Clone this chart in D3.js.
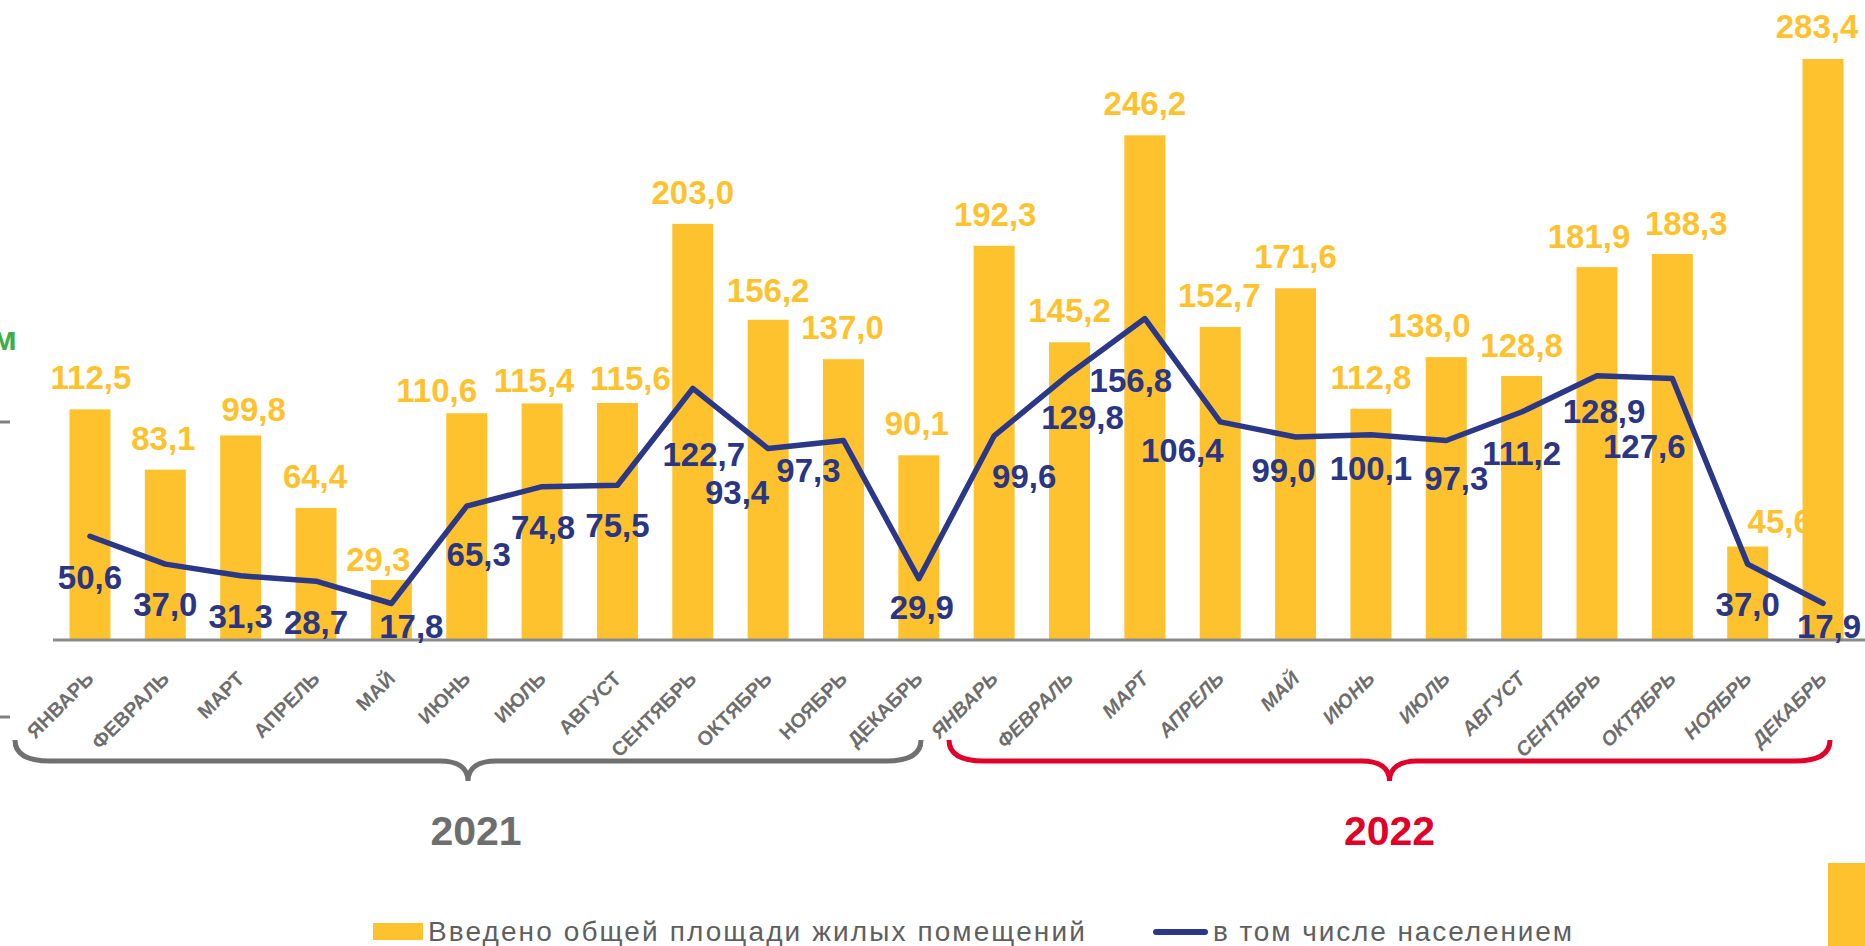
<!DOCTYPE html>
<html>
<head>
<meta charset="utf-8">
<script src="https://cdn.jsdelivr.net/npm/d3@7"></script>
<style>
    html, body { margin: 0; padding: 0; background: #fff; overflow: hidden; }
    svg { display: block; font-family: "Liberation Sans", Arial, sans-serif; }
</style>
</head>
<body>
<svg id="chart" width="1865" height="946"></svg>
<script>
// Données
const months = ["ЯНВАРЬ", "ФЕВРАЛЬ", "МАРТ", "АПРЕЛЬ", "МАЙ", "ИЮНЬ", "ИЮЛЬ", "АВГУСТ", "СЕНТЯБРЬ", "ОКТЯБРЬ", "НОЯБРЬ", "ДЕКАБРЬ"];
const years = ["2021", "2022"];
const total2021 = [112.5, 83.1, 99.8, 64.4, 29.3, 110.6, 115.4, 115.6, 203.0, 156.2, 137.0, 90.1];
const total2022 = [192.3, 145.2, 246.2, 152.7, 171.6, 112.8, 138.0, 128.8, 181.9, 188.3, 45.6, 283.4];
const pop2021 = [50.6, 37.0, 31.3, 28.7, 17.8, 65.3, 74.8, 75.5, 122.7, 93.4, 97.3, 29.9];
const pop2022 = [99.6, 129.8, 156.8, 106.4, 99.0, 100.1, 97.3, 111.2, 128.9, 127.6, 37.0, 17.9];
const seriesNames = ["Введено общей площади жилых помещений", "в том числе населением"];

// Décalages des étiquettes (placement manuel comme dans l'original)
const barLabelDx = [1, -2, 13, -1, -13, -30, -8, 13, 0, 0, -1, -2, 1, 0, 0, -1, 0, 0, -17, 0, -8, 14, 32, -6];
const barLabelGap = [20, 20, 14, 20, 9, 11, 11, 13, 20, 18, 20, 20, 20, 20, 20, 20, 20, 20, 20, 19, 19, 19, 14, 21];
const lineLabelDx = [0, 0, 0, 0, 20, 12, 1, 0, 11, -31, -35, 3, 30, 13, -14, -38, -12, 0, 10, 0, 7, -28, 0, 6];
const lineLabelDy = [41, 40, 40, 41, 22, 48, 40, 40, 66, 43, 29, 28, 40, 43, 61, 28, 33, 33, 37, 41, 35, 68, 40, 23];

const yellow = "#FEC22E";
const navy = "#2B3787";
const gray = "#6E6E6E";
const red = "#E2002B";

const totals = total2021.concat(total2022);
const pops = pop2021.concat(pop2022);
const data = totals.map((v, i) => ({
    i: i,
    year: years[Math.floor(i / 12)],
    month: months[i % 12],
    total: v,
    pop: pops[i]
}));

const fmt = v => d3.format(".1f")(v).replace(".", ",");

const svg = d3.select("#chart");

const x = d3.scaleBand()
    .domain(d3.range(data.length))
    .range([52.3, 1860.7])
    .paddingInner(0.456)
    .paddingOuter(0.228);
const cx = i => x(i) + x.bandwidth() / 2;

const y = d3.scaleLinear().domain([0, 300]).range([640, 25]);

// Décor à gauche et en bas à droite
svg.append("text")
    .attr("x", 17).attr("y", 350)
    .attr("text-anchor", "end")
    .attr("font-size", 34).attr("font-weight", "bold")
    .attr("fill", "#3DAE49")
    .text("м");
[422, 717].forEach(ty => {
    svg.append("line")
        .attr("x1", 0).attr("x2", 10).attr("y1", ty).attr("y2", ty)
        .attr("stroke", "#808080").attr("stroke-width", 3);
});
svg.append("rect")
    .attr("x", 1828).attr("y", 863).attr("width", 37).attr("height", 83)
    .attr("fill", yellow);

// Étiquettes des barres (dessinées sous les barres)
svg.append("g").selectAll("text")
    .data(data)
    .enter()
    .append("text")
    .attr("x", d => cx(d.i) + barLabelDx[d.i])
    .attr("y", d => y(d.total) - barLabelGap[d.i])
    .attr("text-anchor", "middle")
    .attr("font-size", 33).attr("font-weight", "bold")
    .attr("fill", yellow)
    .text(d => fmt(d.total));

// Barres
svg.append("g").selectAll("rect")
    .data(data)
    .enter()
    .append("rect")
    .attr("x", d => x(d.i))
    .attr("y", d => y(d.total))
    .attr("width", x.bandwidth())
    .attr("height", d => y(0) - y(d.total))
    .attr("fill", yellow);

// Axe horizontal
svg.append("line")
    .attr("x1", 53).attr("x2", 1865)
    .attr("y1", y(0)).attr("y2", y(0))
    .attr("stroke", "#8A8A8A").attr("stroke-width", 3);

// Ligne "в том числе населением"
const line = d3.line()
    .x(d => cx(d.i))
    .y(d => y(d.pop));
svg.append("path")
    .datum(data)
    .attr("d", line)
    .attr("fill", "none")
    .attr("stroke", navy)
    .attr("stroke-width", 5.5)
    .attr("stroke-linejoin", "round")
    .attr("stroke-linecap", "round");

svg.append("g").selectAll("text")
    .data(data)
    .enter()
    .append("text")
    .attr("x", d => cx(d.i) + lineLabelDx[d.i])
    .attr("y", d => y(d.pop) + lineLabelDy[d.i] + 12)
    .attr("text-anchor", "middle")
    .attr("font-size", 33).attr("font-weight", "bold")
    .attr("fill", "#2A3584")
    .text(d => fmt(d.pop));

// Mois
svg.append("g").selectAll("text")
    .data(data)
    .enter()
    .append("text")
    .attr("transform", d => `translate(${cx(d.i) + 5},680) rotate(-45)`)
    .attr("text-anchor", "end")
    .attr("font-size", 20).attr("font-weight", "bold")
    .attr("font-style", d => d.year === "2022" ? "italic" : "normal")
    .attr("fill", gray)
    .text(d => d.month);

// Accolades et années
function brace(x1, x2, color) {
    const m = (x1 + x2) / 2;
    const p = d3.path();
    p.moveTo(x1, 740);
    p.bezierCurveTo(x1, 753, x1 + 10, 761, x1 + 35, 761);
    p.lineTo(m - 28, 761);
    p.bezierCurveTo(m - 10, 761, m, 768, m, 781);
    p.bezierCurveTo(m, 768, m + 10, 761, m + 28, 761);
    p.lineTo(x2 - 35, 761);
    p.bezierCurveTo(x2 - 10, 761, x2, 753, x2, 740);
    svg.append("path")
        .attr("d", p.toString())
        .attr("fill", "none")
        .attr("stroke", color)
        .attr("stroke-width", 5);
    return m;
}
const yearColors = [gray, red];
const yearShift = [8, 0];
years.forEach((yr, k) => {
    const x1 = k === 0 ? 15 : 949;
    const x2 = k === 0 ? 921 : 1830;
    const m = brace(x1, x2, k === 0 ? "#707070" : red);
    svg.append("text")
        .attr("x", m + yearShift[k]).attr("y", 845)
        .attr("text-anchor", "middle")
        .attr("font-size", 41).attr("font-weight", "bold")
        .attr("fill", yearColors[k])
        .text(yr);
});

// Légende
svg.append("rect")
    .attr("x", 373).attr("y", 923).attr("width", 50).attr("height", 17)
    .attr("fill", yellow);
svg.append("text")
    .attr("x", 428).attr("y", 941)
    .attr("font-size", 28)
    .attr("letter-spacing", 2.1)
    .attr("fill", "#5F5F5F")
    .text(seriesNames[0]);
svg.append("line")
    .attr("x1", 1156).attr("x2", 1205).attr("y1", 932).attr("y2", 932)
    .attr("stroke", navy).attr("stroke-width", 6).attr("stroke-linecap", "round");
svg.append("text")
    .attr("x", 1213).attr("y", 941)
    .attr("font-size", 28)
    .attr("letter-spacing", 1.9)
    .attr("fill", "#5F5F5F")
    .text(seriesNames[1]);
</script>
</body>
</html>
